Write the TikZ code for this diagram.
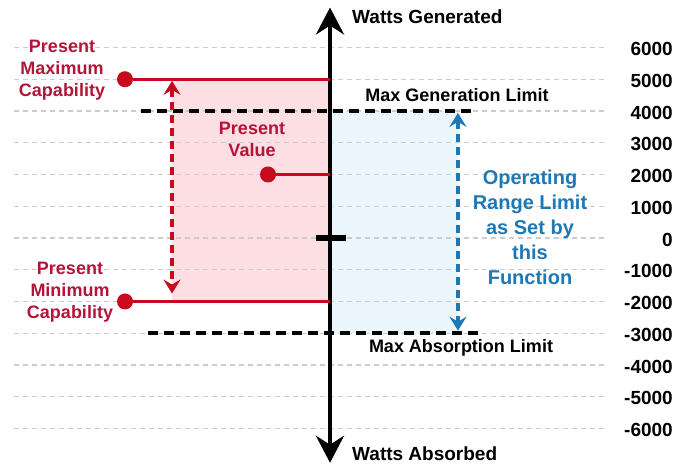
\documentclass[tikz,border=0pt]{standalone}
\usepackage{fontspec}
\setmainfont{Liberation Sans}
\usetikzlibrary{arrows.meta}

\definecolor{capred}{RGB}{200,10,30}
\definecolor{txtred}{RGB}{180,20,55}
\definecolor{rngblue}{RGB}{30,120,180}
\definecolor{pinkfill}{RGB}{253,222,227}
\definecolor{bluefill}{RGB}{235,245,252}

\tikzset{
  gridline/.style={gray!40, line width=1.4pt, dash pattern=on 5pt off 4pt},
  ticklabel/.style={anchor=east, inner sep=0pt, font=\fontsize{19}{22}\selectfont\bfseries},
  axislabel/.style={anchor=west, inner sep=0pt, font=\fontsize{19}{22}\selectfont\bfseries},
  limit/.style={line width=3.5pt, dash pattern=on 10pt off 6pt},
  limitlabel/.style={inner sep=0pt, font=\fontsize{18}{22}\selectfont\bfseries},
  capline/.style={capred, line width=3pt},
  dot/.style={circle, fill=capred, minimum size=16pt, inner sep=0pt},
  redlabel/.style={txtred, align=center, inner sep=0pt, font=\fontsize{18}{22}\selectfont\bfseries},
  bluelabel/.style={rngblue, align=center, inner sep=0pt, font=\fontsize{20}{25}\selectfont\bfseries},
  rangearrow/.style={line width=3.2pt, dash pattern=on 8pt off 5pt,
    {Stealth[length=14pt,width=17pt,inset=5pt]}-{Stealth[length=14pt,width=17pt,inset=5pt]}}
}

\begin{document}
\begin{tikzpicture}[x=1pt,y=31.75pt]
\useasboundingbox (0,-7.181) rectangle (678,7.496);
% ranges
\fill[pinkfill] (172,5) rectangle (330,-2);
\fill[bluefill] (330,4) rectangle (458,-3);
% grid and values
\foreach \v in {-6,...,6} {
  \draw[gridline] (14,\v) -- (607,\v);
  \pgfmathtruncatemacro{\w}{1000*\v}
  \node[ticklabel] (t\v) at (673,\v-0.05) {\w};
}
% axis
\coordinate (top) at (330,7.26);
\coordinate (bot) at (330,-7.08);
\draw[line width=4.5pt, {Stealth[length=27pt,width=28pt,inset=9pt]}-{Stealth[length=27pt,width=28pt,inset=9pt]}] (bot) -- (top);
\draw[line width=5.5pt] (316,0) -- (346,0);
\node[axislabel] (gen) at (352,6.96) {Watts Generated};
\node[axislabel] (abs) at (352,-6.80) {Watts Absorbed};
% limits
\coordinate (genl) at (141,4);
\coordinate (genr) at (473,4);
\coordinate (absl) at (148,-3);
\coordinate (absr) at (480,-3);
\draw[limit] (genl) -- (genr);
\draw[limit] (absl) -- (absr);
\node[limitlabel] (genlim) at (457,4.50) {Max Generation Limit};
\node[limitlabel] (abslim) at (461,-3.46) {Max Absorption Limit};
% present values
\node[dot] (maxdot) at (125,5) {};
\node[dot] (valdot) at (268,2) {};
\node[dot] (mindot) at (125,-2) {};
\coordinate (maxend) at (330,5);
\coordinate (valend) at (330,2);
\coordinate (minend) at (330,-2);
\draw[capline] (maxdot) -- (maxend);
\draw[capline] (valdot) -- (valend);
\draw[capline] (mindot) -- (minend);
\node[redlabel] (maxcap) at (62,5.29) {Present\\Maximum\\Capability};
\node[redlabel] (val) at (252,3.12) {Present\\Value};
\node[redlabel] (mincap) at (70,-1.70) {Present\\Minimum\\Capability};
% ranges
\coordinate (redtop) at (172,4.95);
\coordinate (redbot) at (172,-1.75);
\coordinate (bluetop) at (458,3.94);
\coordinate (bluebot) at (458,-2.92);
\draw[rangearrow, capred] (redtop) -- (redbot);
\draw[rangearrow, rngblue] (bluetop) -- (bluebot);
\node[bluelabel] (oper) at (530,0.35) {Operating\\Range Limit\\as Set by\\this\\Function};
\end{tikzpicture}
\end{document}
